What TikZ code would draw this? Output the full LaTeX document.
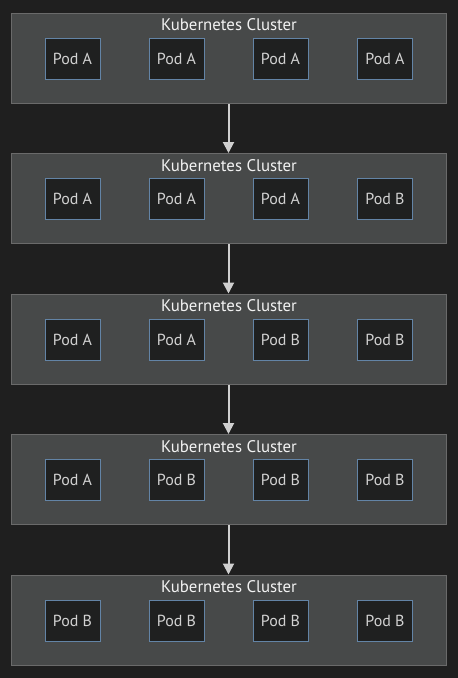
\documentclass[tikz,border=0pt]{standalone}
\usepackage{fontspec}
\setmainfont{PT Sans}
\usepackage{tikz}
\usetikzlibrary{positioning, arrows.meta}
\definecolor{bgdark}{HTML}{1F1F1F}
\definecolor{clusterfill}{HTML}{474949}
\definecolor{clusterline}{HTML}{6A6A6A}
\definecolor{podfill}{HTML}{1F2020}
\definecolor{podline}{HTML}{6384A6}
\definecolor{podtext}{HTML}{D2D2D2}
\definecolor{arrowgrey}{HTML}{D0D0D0}
\tikzset{
  cluster/.style={draw=clusterline, fill=clusterfill, line width=1pt, minimum width=435pt, minimum height=90pt, inner sep=0pt},
  clustertitle/.style={text=white!95!black, font=\fontsize{16.8}{19}\selectfont},
  pod/.style={draw=podline, fill=podfill, line width=1pt, minimum width=55pt, minimum height=41pt, inner sep=0pt, text=podtext, font=\fontsize{16}{19}\selectfont},
  flow/.style={draw=arrowgrey, line width=2pt, -{Triangle[width=11pt,length=11pt]}}
}

\begin{document}
\begin{tikzpicture}[x=1pt, y=-1pt]
  \fill[bgdark] (0,0) rectangle (458,678);
  \useasboundingbox (0,0) rectangle (458,678);
  % cluster 1
  \node[cluster] (k1) at (228.5,58) {};
  \node[clustertitle] (t1) at (229,25) {Kubernetes Cluster};
  \node[pod] (p11) at (72.5,58.5) {Pod A};
  \node[pod] (p12) at (176.5,58.5) {Pod A};
  \node[pod] (p13) at (280.5,58.5) {Pod A};
  \node[pod] (p14) at (385,58.5) {Pod A};
  % cluster 2
  \node[cluster] (k2) at (228.5,198.5) {};
  \node[clustertitle] (t2) at (229,165.5) {Kubernetes Cluster};
  \node[pod] (p21) at (72.5,199) {Pod A};
  \node[pod] (p22) at (176.5,199) {Pod A};
  \node[pod] (p23) at (280.5,199) {Pod A};
  \node[pod] (p24) at (385,199) {Pod B};
  % cluster 3
  \node[cluster] (k3) at (228.5,339) {};
  \node[clustertitle] (t3) at (229,306) {Kubernetes Cluster};
  \node[pod] (p31) at (72.5,339.5) {Pod A};
  \node[pod] (p32) at (176.5,339.5) {Pod A};
  \node[pod] (p33) at (280.5,339.5) {Pod B};
  \node[pod] (p34) at (385,339.5) {Pod B};
  % cluster 4
  \node[cluster] (k4) at (228.5,479.5) {};
  \node[clustertitle] (t4) at (229,446.5) {Kubernetes Cluster};
  \node[pod] (p41) at (72.5,480) {Pod A};
  \node[pod] (p42) at (176.5,480) {Pod B};
  \node[pod] (p43) at (280.5,480) {Pod B};
  \node[pod] (p44) at (385,480) {Pod B};
  % cluster 5
  \node[cluster] (k5) at (228.5,620) {};
  \node[clustertitle] (t5) at (229,587) {Kubernetes Cluster};
  \node[pod] (p51) at (72.5,620.5) {Pod B};
  \node[pod] (p52) at (176.5,620.5) {Pod B};
  \node[pod] (p53) at (280.5,620.5) {Pod B};
  \node[pod] (p54) at (385,620.5) {Pod B};
  \draw[flow] (k1.south) -- (k2.north);
  \draw[flow] (k2.south) -- (k3.north);
  \draw[flow] (k3.south) -- (k4.north);
  \draw[flow] (k4.south) -- (k5.north);
\end{tikzpicture}
\end{document}
